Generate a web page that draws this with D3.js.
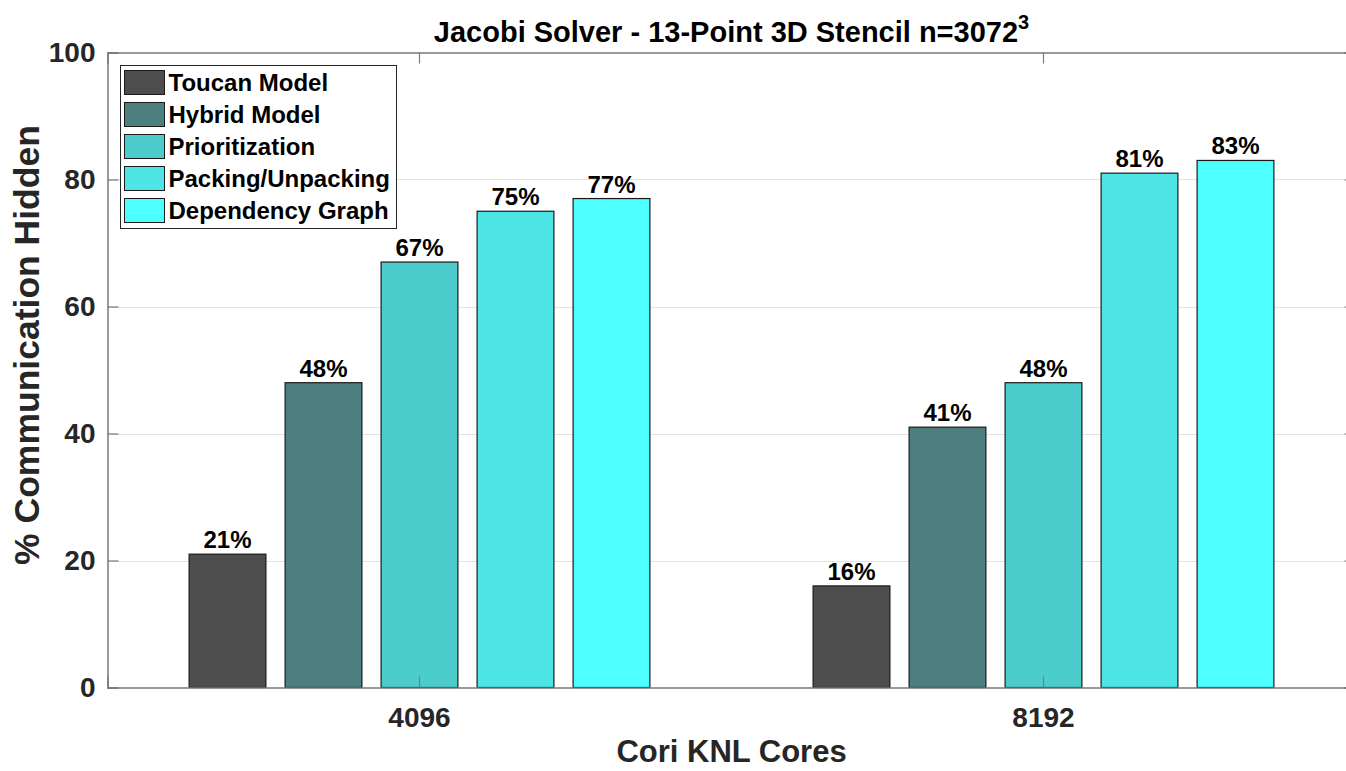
<!DOCTYPE html>
<html>
<head>
<meta charset="utf-8">
<script src="https://cdn.jsdelivr.net/npm/d3@7"></script>
<style>
  html, body { margin: 0; padding: 0; background: #fff; }
  svg { display: block; font-family: "Liberation Sans", Arial, Helvetica, sans-serif; font-weight: bold; }
</style>
</head>
<body>
<svg id="chart" width="1346" height="771"></svg>
<script>
// Core counts on the x axis
const coreCounts = ["4096", "8192"];
// Optimisation stages, one bar each per core count
const seriesNames = ["Toucan Model", "Hybrid Model", "Prioritization", "Packing/Unpacking", "Dependency Graph"];
const seriesColors = ["#4d4d4d", "#4d7f7f", "#4dcccc", "#4de5e5", "#4dffff"];
// % communication hidden, per series, for 4096 and 8192 cores
const toucanModel = [21, 16];
const hybridModel = [48, 41];
const prioritization = [67, 48];
const packingUnpacking = [75, 81];
const dependencyGraph = [77, 83];
const seriesValues = [toucanModel, hybridModel, prioritization, packingUnpacking, dependencyGraph];
const yTicks = [0, 20, 40, 60, 80, 100];
const gridTicks = [20, 40, 60, 80];

const svg = d3.select("#chart");
const W = 1346, H = 771;
const plot = { left: 107.5, right: 1355.5, top: 52.5, bottom: 687.5 };

const x0 = d3.scaleBand().domain(coreCounts).range([plot.left, plot.right]).padding(0);
const x1 = d3.scaleBand().domain(seriesNames).range([0, x0.bandwidth()])
  .paddingInner(0.2).paddingOuter(0.85);
const y = d3.scaleLinear().domain([0, 100]).range([plot.bottom, plot.top]);

svg.append("rect").attr("width", W).attr("height", H).attr("fill", "#fff");

// horizontal grid
svg.append("g").selectAll("line").data(gridTicks).join("line")
  .attr("x1", plot.left).attr("x2", plot.right)
  .attr("y1", d => Math.round(y(d)) + 0.5).attr("y2", d => Math.round(y(d)) + 0.5)
  .attr("stroke", "#e3e3e3").attr("stroke-width", 1);

// bars
const rows = [];
coreCounts.forEach((c, ci) => {
  seriesNames.forEach((s, si) => rows.push({ core: c, series: s, si, value: seriesValues[si][ci] }));
});
const bars = svg.append("g");
bars.selectAll("rect").data(rows).join("rect")
  .attr("x", d => x0(d.core) + x1(d.series))
  .attr("width", x1.bandwidth())
  .attr("y", d => y(d.value))
  .attr("height", d => y(0) - y(d.value))
  .attr("fill", d => seriesColors[d.si])
  .attr("stroke", "#1a1a1a").attr("stroke-width", 1.2);

// value labels
svg.append("g").selectAll("text").data(rows).join("text")
  .attr("x", d => x0(d.core) + x1(d.series) + x1.bandwidth() / 2)
  .attr("y", d => y(d.value) - 6)
  .attr("text-anchor", "middle")
  .attr("font-size", 24).attr("fill", "#000")
  .text(d => d.value + "%");

// axes
const axisColor = "#7a7a7a";
const yAxisL = d3.axisLeft(y).tickValues(yTicks).tickSize(-11).tickPadding(12);
const gL = svg.append("g").attr("transform", `translate(${plot.left},0)`).call(yAxisL);
const yAxisR = d3.axisRight(y).tickValues(yTicks).tickSize(-11).tickFormat("");
const gR = svg.append("g").attr("transform", `translate(${plot.right},0)`).call(yAxisR);
const xAxisB = d3.axisBottom(x0).tickSize(-11).tickPadding(20);
const gB = svg.append("g").attr("transform", `translate(0,${plot.bottom})`).call(xAxisB);
const xAxisT = d3.axisTop(x0).tickSize(-11).tickFormat("");
const gT = svg.append("g").attr("transform", `translate(0,${plot.top})`).call(xAxisT);

[gL, gR, gB, gT].forEach(g => {
  g.select(".domain").attr("stroke", axisColor).attr("stroke-width", 1.5);
  g.selectAll(".tick line").attr("stroke", axisColor).attr("stroke-width", 1.2);
  g.selectAll(".tick text").attr("fill", "#262626").attr("font-size", 28)
    .attr("font-family", "'Liberation Sans', Arial, sans-serif").attr("font-weight", "bold");
});
gB.selectAll(".tick text").attr("dy", "0.71em");

// title
const title = svg.append("text")
  .attr("x", (plot.left + plot.right) / 2).attr("y", 42)
  .attr("text-anchor", "middle").attr("font-size", 29).attr("fill", "#000");
title.append("tspan").text("Jacobi Solver - 13-Point 3D Stencil n=3072");
title.append("tspan").attr("font-size", 20).attr("dy", -13).text("3");

// axis labels
svg.append("text")
  .attr("x", (plot.left + plot.right) / 2).attr("y", 762)
  .attr("text-anchor", "middle").attr("font-size", 31).attr("fill", "#262626")
  .text("Cori KNL Cores");
svg.append("text")
  .attr("transform", `translate(39,345) rotate(-90)`)
  .attr("text-anchor", "middle").attr("font-size", 35.5).attr("fill", "#262626")
  .text("% Communication Hidden");

// legend
const lg = svg.append("g");
lg.append("rect").attr("x", 120.5).attr("y", 65.5).attr("width", 276).attr("height", 163)
  .attr("fill", "#fff").attr("stroke", "#262626").attr("stroke-width", 1);
const items = lg.selectAll("g.item").data(seriesNames).join("g").attr("class", "item")
  .attr("transform", (d, i) => `translate(124.5,${70.5 + i * 32})`);
items.append("rect").attr("width", 40).attr("height", 24)
  .attr("fill", (d, i) => seriesColors[i]).attr("stroke", "#1a1a1a").attr("stroke-width", 1);
items.append("text").attr("x", 44).attr("y", 12).attr("dy", "0.35em")
  .attr("font-size", 24).attr("fill", "#000").text(d => d);
</script>
</body>
</html>
